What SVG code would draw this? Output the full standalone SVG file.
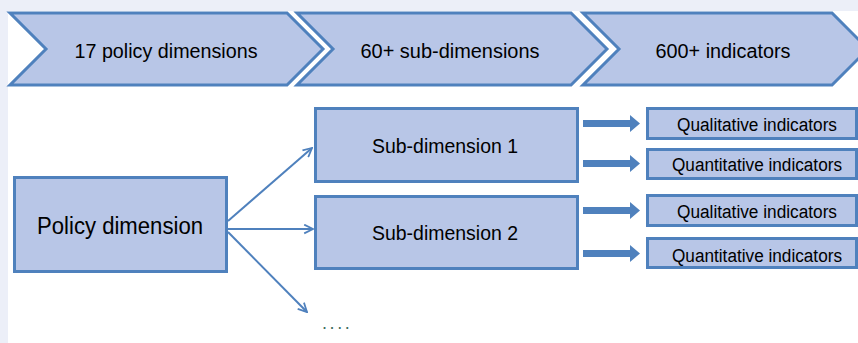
<svg xmlns="http://www.w3.org/2000/svg" width="858" height="343" viewBox="0 0 858 343">
<defs>
<style>
.shape{fill:#B8C6E7;stroke:#4F81BD;stroke-width:3;stroke-linejoin:miter}
.t{font-family:"Liberation Sans",Arial,sans-serif;fill:#000;text-anchor:middle}
.line{fill:none;stroke:#4F81BD;stroke-width:2}
.block{fill:#4F81BD}
</style>
<marker id="open" viewBox="0 0 10 10" refX="9" refY="5" markerWidth="11" markerHeight="11" markerUnits="userSpaceOnUse" orient="auto">
<path d="M1,1 L9,5 L1,9" fill="none" stroke="#4F81BD" stroke-width="1.6"/>
</marker>
</defs>
<rect x="0" y="0" width="858" height="343" fill="#ECEFF8"/>
<rect x="8" y="11" width="850" height="332" fill="#FFFFFF"/>

<g id="chevron1">
<polygon class="shape" points="10,13 287,13 323,49 287,85 10,85 46,49"/>
<text class="t" x="166" y="58" font-size="20" textLength="183" lengthAdjust="spacingAndGlyphs">17 policy dimensions</text>
</g>
<g id="chevron2">
<polygon class="shape" points="297,13 571,13 607,49 571,85 297,85 333,49"/>
<text class="t" x="450" y="58" font-size="20" textLength="179" lengthAdjust="spacingAndGlyphs">60+ sub-dimensions</text>
</g>
<g id="chevron3">
<polygon class="shape" points="583,13 832,13 868,49 832,85 583,85 619,49"/>
<text class="t" x="723" y="58" font-size="20" textLength="135" lengthAdjust="spacingAndGlyphs">600+ indicators</text>
</g>

<g id="policy-dimension">
<rect class="shape" x="14.5" y="177.5" width="212" height="94"/>
<text class="t" x="120" y="234" font-size="23" textLength="166" lengthAdjust="spacingAndGlyphs">Policy dimension</text>
</g>
<g id="sub-dimension-1">
<rect class="shape" x="315.5" y="108.5" width="262" height="73"/>
<text class="t" x="445" y="153" font-size="20" textLength="146" lengthAdjust="spacingAndGlyphs">Sub-dimension 1</text>
</g>
<g id="sub-dimension-2">
<rect class="shape" x="315.5" y="196.5" width="262" height="72"/>
<text class="t" x="445" y="240" font-size="20" textLength="146" lengthAdjust="spacingAndGlyphs">Sub-dimension 2</text>
</g>

<g id="qualitative-1">
<rect class="shape" x="647.5" y="108.5" width="209" height="30"/>
<text class="t" x="757" y="131" font-size="18" textLength="160" lengthAdjust="spacingAndGlyphs">Qualitative indicators</text>
</g>
<g id="quantitative-1">
<rect class="shape" x="647.5" y="149.5" width="209" height="29"/>
<text class="t" x="757" y="171" font-size="18" textLength="170" lengthAdjust="spacingAndGlyphs">Quantitative indicators</text>
</g>
<g id="qualitative-2">
<rect class="shape" x="647.5" y="195.5" width="209" height="30"/>
<text class="t" x="757" y="218" font-size="18" textLength="160" lengthAdjust="spacingAndGlyphs">Qualitative indicators</text>
</g>
<g id="quantitative-2">
<rect class="shape" x="647.5" y="238.5" width="209" height="29"/>
<text class="t" x="757" y="262" font-size="18" textLength="170" lengthAdjust="spacingAndGlyphs">Quantitative indicators</text>
</g>

<g id="connectors">
<line class="line" x1="228" y1="221" x2="312" y2="148" marker-end="url(#open)"/>
<line class="line" x1="228" y1="229" x2="313" y2="229" marker-end="url(#open)"/>
<line class="line" x1="228" y1="232" x2="307" y2="312" marker-end="url(#open)"/>
<polygon class="block" points="583,120 630,120 630,115 640,123.5 630,132 630,127 583,127"/>
<polygon class="block" points="583,160 630,160 630,155 640,163.5 630,172 630,167 583,167"/>
<polygon class="block" points="583,207 630,207 630,202 640,210.5 630,219 630,214 583,214"/>
<polygon class="block" points="583,250 630,250 630,245 640,253.5 630,262 630,257 583,257"/>
</g>
<text x="322" y="329" font-family="Liberation Sans, Arial, sans-serif" font-size="18" letter-spacing="2.6" fill="#3F6E5E">....</text>
</svg>
